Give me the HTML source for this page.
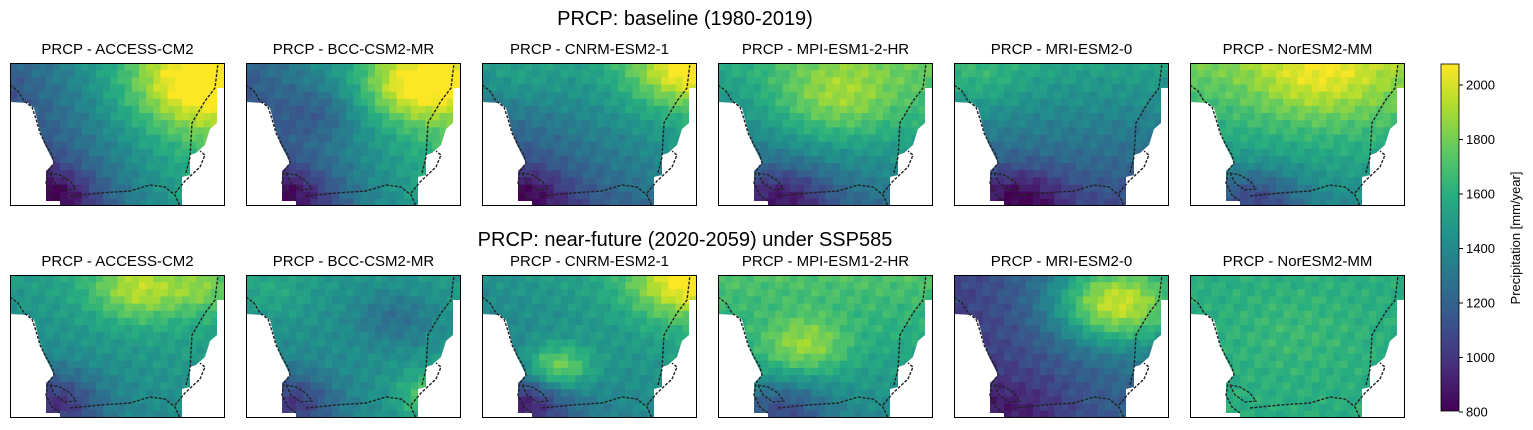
<!DOCTYPE html>
<html><head><meta charset="utf-8"><style>
html,body{margin:0;padding:0;background:#fff;}
svg{display:block;font-family:"Liberation Sans","DejaVu Sans",sans-serif;}
</style></head><body>
<svg id="s" width="1533" height="430" xmlns="http://www.w3.org/2000/svg">
<defs>
<linearGradient id="cb" x1="0" y1="1" x2="0" y2="0">
<stop offset="0" stop-color="#440154"/><stop offset="0.125" stop-color="#472d7b"/><stop offset="0.25" stop-color="#3b528b"/><stop offset="0.375" stop-color="#2c728e"/><stop offset="0.5" stop-color="#21918c"/><stop offset="0.625" stop-color="#28ae80"/><stop offset="0.75" stop-color="#5ec962"/><stop offset="0.875" stop-color="#addc30"/><stop offset="1" stop-color="#fde725"/>
</linearGradient>
<clipPath id="land"><path d="M0,0 H215 V25 H207 V60 L200,66 L195,82 L186,90 L180,92 V112 L172,114 V143 H50 V138 H36 V108 L44,100 L40,92 L34,80 L30,68 L27,56 L24,45 L18,40 L0,39 Z"/></clipPath>
</defs>
<text x="685" y="25" font-size="20" text-anchor="middle">PRCP: baseline (1980-2019)</text>
<text x="685" y="246" font-size="20" text-anchor="middle">PRCP: near-future (2020-2059) under SSP585</text>
<rect x="1441" y="64" width="18" height="347" fill="url(#cb)" stroke="#000" stroke-width="0.8"/>
<g id="cbt" font-size="13"></g>
<text transform="translate(1520,238) rotate(-90)" font-size="13" text-anchor="middle">Precipitation [mm/year]</text>
<g id="panels"></g>
</svg>
<script>
var V=[[0,[68,1,84]],[.125,[71,45,123]],[.25,[59,82,139]],[.375,[44,114,142]],[.5,[33,145,140]],[.625,[40,174,128]],[.75,[94,201,98]],[.875,[173,220,48]],[1,[253,231,37]]];
function col(v){v=Math.max(0,Math.min(1,v));for(var i=1;i<V.length;i++){if(v<=V[i][0]){var a=V[i-1],b=V[i],t=(v-a[0])/(b[0]-a[0]);return 'rgb('+[0,1,2].map(function(k){return Math.round(a[1][k]+(b[1][k]-a[1][k])*t)}).join(',')+')';}}}
var names=["ACCESS-CM2","BCC-CSM2-MR","CNRM-ESM2-1","MPI-ESM1-2-HR","MRI-ESM2-0","NorESM2-MM"];
var xs=[10,246,482,718,954,1190],ys=[63,275];
var P=[
[.3,.55,-.2,[[.85,.15,.3,.35],[.2,.95,.22,-.25]]],
[.3,.5,-.15,[[.8,.15,.25,.4],[.35,.35,.18,-.12],[.2,.95,.22,-.25]]],
[.42,.3,-.3,[[.95,.05,.25,.35],[.2,.95,.22,-.2],[.1,.1,.25,.12]]],
[.6,.15,-.35,[[.55,.25,.3,.25],[.3,.95,.22,-.25]]],
[.58,0,-.35,[[.1,.1,.25,.1],[.3,.95,.22,-.25]]],
[.78,.05,-.35,[[.6,.1,.3,.2],[.3,.95,.22,-.25]]],
[.55,.1,-.15,[[.6,.1,.22,.3],[.2,.9,.22,-.3],[.9,.1,.15,.15]]],
[.5,.05,-.05,[[.7,.3,.2,-.15],[.9,.85,.18,.3],[.2,.9,.22,-.3],[.1,.1,.2,.1]]],
[.5,.15,-.15,[[.95,.05,.25,.4],[.35,.65,.16,.35],[.2,.9,.22,-.3]]],
[.72,0,-.25,[[.4,.5,.2,.25],[.3,.95,.22,-.25]]],
[.2,.25,-.1,[[.75,.2,.28,.55],[.3,.95,.22,-.1]]],
[.62,0,0,[[.5,.4,.3,.05]]]
];
var svg='';
for(var r=0;r<2;r++)for(var c=0;c<6;c++){
 var p=P[r*6+c],x0=xs[c],y0=ys[r];
 svg+='<text x="'+(x0+107.5)+'" y="'+(y0-9)+'" font-size="15" text-anchor="middle">PRCP - '+names[c]+'</text>';
 svg+='<g transform="translate('+x0+','+y0+')"><g clip-path="url(#land)">';
 var nx=30,ny=20,cw=215/nx,ch=143/ny;
 for(var j=0;j<ny;j++)for(var i=0;i<nx;i++){
  var u=(i+.5)/nx,w=(j+.5)/ny,v=p[0]+p[1]*u+p[2]*w;
  p[3].forEach(function(b){var d=((u-b[0])*(u-b[0])+(w-b[1])*(w-b[1]))/(b[2]*b[2]);v+=b[3]*Math.exp(-d);});
  v+=0.03*Math.sin(i*2.1+j*1.3+c)+0.02*Math.cos(i*0.7-j*2.3+r);
  svg+='<rect x="'+(i*cw).toFixed(2)+'" y="'+(j*ch).toFixed(2)+'" width="'+(cw+.4).toFixed(2)+'" height="'+(ch+.4).toFixed(2)+'" fill="'+col(v)+'"/>';
 }
 svg+='</g>';
 svg+='<path d="M0,22 L8,28 L14,38 L22,44 L26,56 L30,70 L36,82 L42,92 L44,100 L38,108 L36,120 L42,132 L50,138" fill="none" stroke="#222" stroke-width="1.4" stroke-dasharray="3,1.5"/>';
 svg+='<path d="M40,110 L50,112 L60,118 L66,126 L55,127 L45,120 Z" fill="none" stroke="#222" stroke-width="1.3" stroke-dasharray="3,1.5"/>';
 svg+='<path d="M60,133 L90,130 L120,128 L140,122 L155,124 L165,132 L170,143 M165,130 L175,118 L190,104 L195,92 L190,88 M176,110 L180,94 L182,60 L195,38 L205,25 L208,0" fill="none" stroke="#222" stroke-width="1.4" stroke-dasharray="3,1.5"/>';
 svg+='<rect x="0.5" y="0.5" width="214" height="142" fill="none" stroke="#000" stroke-width="1"/></g>';
}
document.getElementById('panels').innerHTML=svg;
var t='';
for(var k=0;k<7;k++){var y=412-k*54.5;t+='<line x1="1459" x2="1463" y1="'+y+'" y2="'+y+'" stroke="#000"/><text x="1466" y="'+(y+4.5)+'">'+(800+200*k)+'</text>';}
document.getElementById('cbt').innerHTML=t;
</script>
</body></html>
